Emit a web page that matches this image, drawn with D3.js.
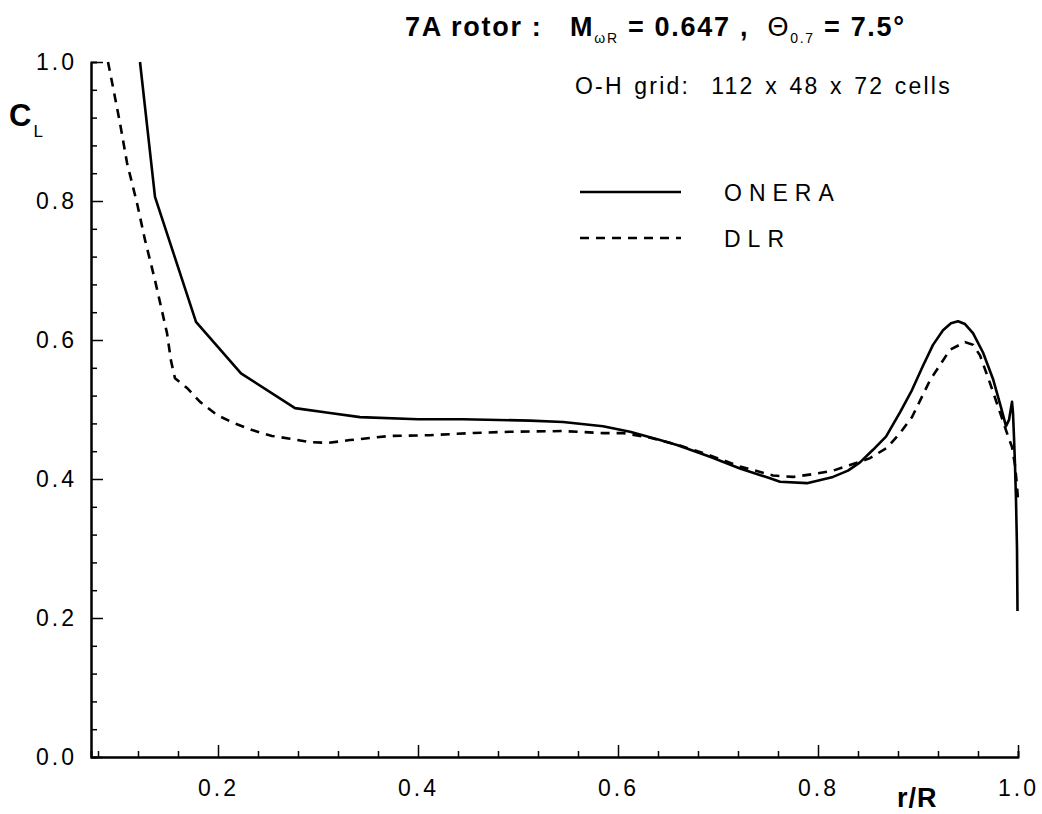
<!DOCTYPE html>
<html>
<head>
<meta charset="utf-8">
<script src="https://cdn.jsdelivr.net/npm/d3@7"></script>
<style>
  body { margin: 0; background: #fff; }
  text { font-family: "Liberation Sans", Arial, sans-serif; fill: #000; white-space: pre; }
</style>
</head>
<body>
<div id="chart"></div>
<script>
// ONERA (solid)
const oneraR  = [0.122, 0.137, 0.178, 0.223, 0.277, 0.312, 0.342, 0.400, 0.445, 0.512, 0.545, 0.585, 0.612, 0.642, 0.659, 0.692, 0.722, 0.752, 0.762, 0.789, 0.815, 0.830, 0.842, 0.855, 0.868, 0.882, 0.894, 0.905, 0.915, 0.925, 0.933, 0.940, 0.947, 0.955, 0.965, 0.975, 0.983, 0.988, 0.991, 0.994, 0.995, 0.996, 0.997, 0.998, 0.999, 0.9995];
const oneraCL = [1.000, 0.806, 0.626, 0.552, 0.502, 0.495, 0.489, 0.486, 0.486, 0.484, 0.482, 0.476, 0.468, 0.456, 0.449, 0.432, 0.415, 0.401, 0.396, 0.394, 0.403, 0.412, 0.424, 0.442, 0.461, 0.496, 0.528, 0.563, 0.593, 0.614, 0.624, 0.627, 0.623, 0.610, 0.582, 0.544, 0.503, 0.476, 0.485, 0.511, 0.495, 0.460, 0.420, 0.370, 0.300, 0.210];
// DLR (dashed)
const dlrR  = [0.090, 0.095, 0.102, 0.109, 0.119, 0.127, 0.137, 0.149, 0.153, 0.157, 0.169, 0.182, 0.199, 0.215, 0.235, 0.254, 0.272, 0.292, 0.310, 0.332, 0.352, 0.372, 0.412, 0.452, 0.492, 0.545, 0.585, 0.605, 0.630, 0.660, 0.692, 0.722, 0.755, 0.775, 0.795, 0.815, 0.832, 0.852, 0.869, 0.882, 0.894, 0.912, 0.932, 0.947, 0.955, 0.962, 0.972, 0.981, 0.989, 0.994, 0.997, 0.999, 1.000];
const dlrCL = [1.000, 0.964, 0.912, 0.855, 0.797, 0.744, 0.686, 0.610, 0.570, 0.545, 0.531, 0.511, 0.492, 0.481, 0.470, 0.462, 0.458, 0.453, 0.452, 0.456, 0.459, 0.462, 0.463, 0.466, 0.468, 0.469, 0.466, 0.466, 0.460, 0.449, 0.434, 0.418, 0.405, 0.403, 0.407, 0.412, 0.420, 0.430, 0.445, 0.466, 0.489, 0.542, 0.586, 0.597, 0.593, 0.578, 0.538, 0.500, 0.466, 0.446, 0.420, 0.390, 0.370];

const xMajor = [0.2, 0.4, 0.6, 0.8, 1.0];
const yMajor = [0.0, 0.2, 0.4, 0.6, 0.8, 1.0];
const xMinor = d3.range(2, 25).map(i => i * 0.04).filter(v => xMajor.every(m => Math.abs(m - v) > 1e-6));
const yMinor = d3.range(1, 25).map(i => i * 0.04).filter(v => v < 1 && yMajor.every(m => Math.abs(m - v) > 1e-6));

const W = 1042, H = 814;
const svg = d3.select("#chart").append("svg")
    .attr("width", W)
    .attr("height", H);

const x = d3.scaleLinear().domain([0.073, 1.0]).range([91, 1018]);
const y = d3.scaleLinear().domain([0, 1]).range([757, 62]);

// axes (ticks inward)
function styleAxis(g) {
    g.select(".domain").attr("stroke", "#000").attr("stroke-width", 2);
    g.selectAll(".tick line").attr("stroke", "#000").attr("stroke-width", 1.5);
    g.selectAll(".tick text")
        .style("font-size", "23px")
        .style("letter-spacing", "3px")
        .attr("fill", "#000");
}

svg.append("g")
    .attr("transform", `translate(0,${y(0)})`)
    .call(d3.axisBottom(x).tickValues(xMinor).tickSize(-6).tickFormat(""))
    .call(styleAxis);

svg.append("g")
    .attr("transform", `translate(0,${y(0)})`)
    .call(d3.axisBottom(x).tickValues(xMajor).tickSize(-12).tickSizeOuter(0).tickPadding(18).tickFormat(d3.format(".1f")))
    .call(styleAxis)
    .selectAll(".tick text").attr("dy", "0.9em");

svg.append("g")
    .attr("transform", `translate(${x.range()[0]},0)`)
    .call(d3.axisLeft(y).tickValues(yMinor).tickSize(-6).tickFormat(""))
    .call(styleAxis);

svg.append("g")
    .attr("transform", `translate(${x.range()[0]},0)`)
    .call(d3.axisLeft(y).tickValues(yMajor).tickSize(-12).tickSizeOuter(0).tickPadding(14).tickFormat(d3.format(".1f")))
    .call(styleAxis);

// curves
const line = d3.line().x(d => x(d[0])).y(d => y(d[1]));

svg.append("path")
    .datum(d3.zip(dlrR, dlrCL))
    .attr("d", line)
    .attr("fill", "none")
    .attr("stroke", "#000")
    .attr("stroke-width", 2.6)
    .attr("stroke-dasharray", "9,7");

svg.append("path")
    .datum(d3.zip(oneraR, oneraCL))
    .attr("d", line)
    .attr("fill", "none")
    .attr("stroke", "#000")
    .attr("stroke-width", 2.6)
    .attr("stroke-linejoin", "round");

// axis titles
const cl = svg.append("text").attr("x", 9).attr("y", 126)
    .style("font-size", "31px").style("font-weight", "bold");
cl.append("tspan").text("C");
cl.append("tspan").attr("dy", 11).attr("dx", 2).style("font-size", "17px").style("font-weight", "normal").text("L");

svg.append("text").attr("x", 897).attr("y", 807)
    .style("font-size", "27px").style("font-weight", "bold").style("letter-spacing", "1px")
    .text("r/R");

// title
const t = svg.append("text").attr("x", 405).attr("y", 36)
    .style("font-size", "27px").style("font-weight", "bold").style("letter-spacing", "1.7px");
t.append("tspan").text("7A rotor :   M");
t.append("tspan").attr("dy", 7).style("font-size", "14px").style("font-weight", "normal").text("ωR");
t.append("tspan").attr("dy", -7).text(" = 0.647 ,  ");
t.append("tspan").style("font-weight", "normal").text("Θ");
t.append("tspan").attr("dy", 7).style("font-size", "14px").style("font-weight", "normal").text("0.7");
t.append("tspan").attr("dy", -7).text(" = 7.5°");

svg.append("text").attr("x", 575).attr("y", 94)
    .style("font-size", "23px").style("letter-spacing", "2.2px").style("word-spacing", "2px")
    .text("O-H grid:  112 x 48 x 72 cells");

// legend
const legend = [
    {name: "ONERA", dash: null, y: 192},
    {name: "DLR", dash: "9,7", y: 238}
];
legend.forEach(d => {
    svg.append("line")
        .attr("x1", 580).attr("x2", 681)
        .attr("y1", d.y).attr("y2", d.y)
        .attr("stroke", "#000").attr("stroke-width", 2.4)
        .attr("stroke-dasharray", d.dash);
    svg.append("text")
        .attr("x", 724).attr("y", d.y + 9)
        .style("font-size", "23px").style("letter-spacing", "7px")
        .text(d.name);
});
</script>
</body>
</html>
